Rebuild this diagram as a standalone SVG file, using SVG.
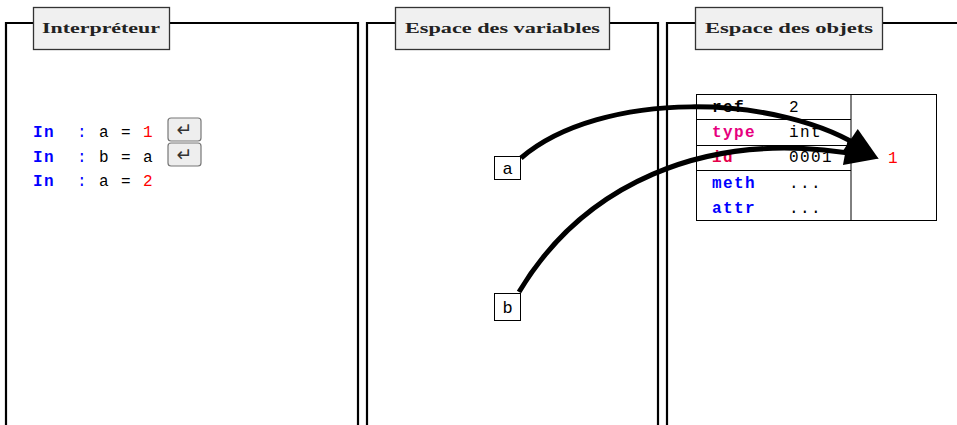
<svg xmlns="http://www.w3.org/2000/svg" width="957" height="425" viewBox="0 0 957 425">
<style>
.frame{fill:none;stroke:#000;stroke-width:2.2}
.tab{fill:#f0f0f0;stroke:#333;stroke-width:1.3}
.title{font-family:"Liberation Serif","DejaVu Serif",serif;font-weight:bold;font-size:14.5px;fill:#222}
.code{font-family:"Liberation Mono","DejaVu Sans Mono",monospace;font-size:16px;letter-spacing:1.4px;white-space:pre;fill:#000}
.kw{fill:#0000ff;font-weight:bold}
.num{fill:#ff0000}
.key{fill:#eeeeee;stroke:#777;stroke-width:1.2}
.keyg{font-family:"DejaVu Sans",sans-serif;font-size:19px;fill:#333}
.var{fill:#fff;stroke:#000;stroke-width:1}
.vt{font-family:"Liberation Mono","DejaVu Sans Mono",monospace;font-size:17px;fill:#000}
.tbl{fill:#fff;stroke:#000;stroke-width:1}
.tl{stroke:#000;stroke-width:1}
.mag{fill:#e6007e;font-weight:bold}
.idc{fill:#e5004a;font-weight:bold}
.blu{fill:#0000ff;font-weight:bold}
.arr{fill:none;stroke:#000;stroke-width:5}
</style>
<defs>
<marker id="ah" markerUnits="userSpaceOnUse" markerWidth="34" markerHeight="28" refX="20" refY="13" orient="auto" overflow="visible">
<path d="M0,0 L34,13 L0,26 z" fill="#000"/>
</marker>
</defs>

<g id="panel-interpreteur">
<path class="frame" d="M6,425 V23 H358 V425"/>
<rect class="tab" x="33.5" y="7.5" width="136" height="42"/>
<text class="title" x="42" y="33" textLength="118" lengthAdjust="spacingAndGlyphs">Interpréteur</text>
<text class="code" x="33" y="137"><tspan class="kw">In</tspan><tspan class="kw" style="font-weight:normal">  :</tspan> a = <tspan class="num">1</tspan></text>
<text class="code" x="33" y="161.5"><tspan class="kw">In</tspan><tspan class="kw" style="font-weight:normal">  :</tspan> b = a</text>
<text class="code" x="33" y="186"><tspan class="kw">In</tspan><tspan class="kw" style="font-weight:normal">  :</tspan> a = <tspan class="num">2</tspan></text>
<rect class="key" x="168" y="118" width="33" height="23" rx="3"/>
<text class="keyg" x="184.5" y="136" text-anchor="middle">↵</text>
<rect class="key" x="168" y="143" width="33" height="23" rx="3"/>
<text class="keyg" x="184.5" y="161" text-anchor="middle">↵</text>
</g>

<g id="panel-variables">
<path class="frame" d="M367,425 V23 H658 V425"/>
<rect class="tab" x="395.5" y="7.5" width="214" height="42"/>
<text class="title" x="405" y="33" textLength="195" lengthAdjust="spacingAndGlyphs">Espace des variables</text>
</g>

<g id="panel-objets">
<path class="frame" d="M667,425 V23 H957"/>
<rect class="tab" x="695.5" y="7.5" width="187" height="42"/>
<text class="title" x="705" y="33" textLength="168" lengthAdjust="spacingAndGlyphs">Espace des objets</text>
</g>

<g id="var-a">
<rect class="var" x="494.5" y="156.5" width="26" height="23"/>
<text class="vt" x="507.5" y="173.5" text-anchor="middle">a</text>
</g>

<g id="var-b">
<rect class="var" x="494.5" y="293.5" width="26" height="27"/>
<text class="vt" x="507.5" y="313" text-anchor="middle">b</text>
</g>

<g id="object-1">
<rect class="tbl" x="696.5" y="94.5" width="240" height="126"/>
<line class="tl" x1="851" y1="94.5" x2="851" y2="220.5"/>
<line class="tl" x1="696.5" y1="119.5" x2="851" y2="119.5"/>
<line class="tl" x1="696.5" y1="145.5" x2="851" y2="145.5"/>
<line class="tl" x1="696.5" y1="170.5" x2="851" y2="170.5"/>
<text class="code" x="712" y="112" style="font-weight:bold">ref</text>
<text class="code" x="789" y="112">2</text>
<text class="code" x="712" y="137"><tspan class="mag">type</tspan></text>
<text class="code" x="789" y="137">int</text>
<text class="code" x="712" y="162"><tspan class="idc">id</tspan></text>
<text class="code" x="789" y="162">0001</text>
<text class="code" x="712" y="188"><tspan class="blu">meth</tspan></text>
<text class="code" x="789" y="188">...</text>
<text class="code" x="712" y="213"><tspan class="blu">attr</tspan></text>
<text class="code" x="789" y="213">...</text>
<text class="code num" x="888" y="163">1</text>
</g>

<g id="connectors">
<path class="arr" d="M521,158 C600,90 780,92 867,151" marker-end="url(#ah)"/>
<path class="arr" d="M519,292 C580,190 700,125 865,156" marker-end="url(#ah)"/>
</g>
</svg>
